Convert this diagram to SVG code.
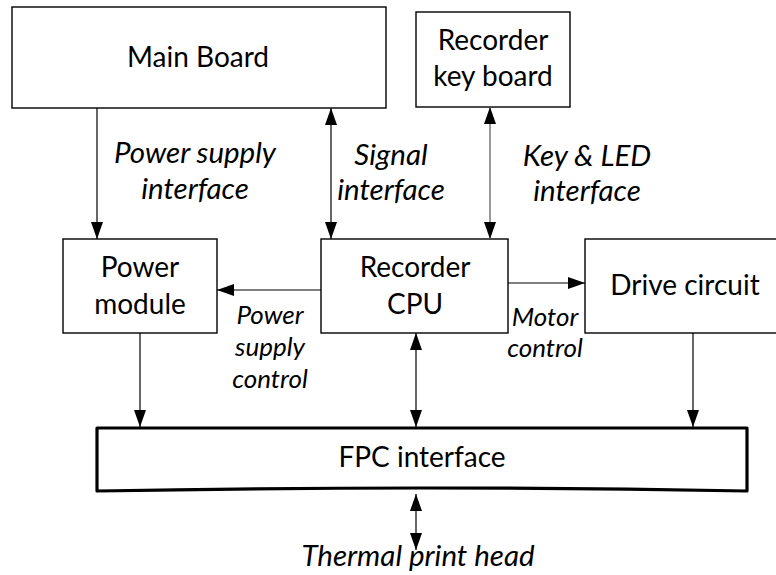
<svg xmlns="http://www.w3.org/2000/svg" width="776" height="575" viewBox="0 0 776 575">
<style>
.box{fill:#fff;stroke:#000;stroke-width:1.4}
.fpc{fill:#fff;stroke:#000;stroke-width:3.2;stroke-linejoin:round}
.t{font-family:Lato,"Liberation Sans",sans-serif;font-size:28px;fill:#000;text-anchor:middle}
.i{font-family:Lato,"Liberation Sans",sans-serif;font-size:29.5px;font-style:italic;fill:#000;text-anchor:middle}
.s{font-family:Lato,"Liberation Sans",sans-serif;font-size:26px;font-style:italic;fill:#000;text-anchor:middle}
.c{fill:none;stroke:#000;stroke-width:1.2}
.g{stroke:#555}
</style>
<defs>
<marker id="ah" viewBox="0 0 17 12" refX="17" refY="6" markerWidth="17" markerHeight="12" markerUnits="userSpaceOnUse" orient="auto-start-reverse">
<path d="M0,0 L17,6 L0,12 Z" fill="#000"/>
</marker>
</defs>
<g id="main-board"><rect class="box" x="12" y="7" width="374" height="101"/><text class="t" x="198" y="67">Main Board</text></g>
<g id="key-board"><rect class="box" x="416" y="12" width="154" height="95"/><text class="t" x="493" y="50">Recorder</text><text class="t" x="493" y="86">key board</text></g>
<g id="power-module"><rect class="box" x="63" y="239" width="154" height="94"/><text class="t" x="140" y="277">Power</text><text class="t" x="140" y="314">module</text></g>
<g id="recorder-cpu"><rect class="box" x="321" y="239" width="187" height="94"/><text class="t" x="415" y="277">Recorder</text><text class="t" x="415" y="314">CPU</text></g>
<g id="drive-circuit"><rect class="box" x="585" y="239" width="205" height="94"/><text class="t" x="685" y="295">Drive circuit</text></g>
<g id="fpc-interface"><path class="fpc" d="M97,428 H747 V491 Q422,485 97,491 Z"/><text class="t" x="422" y="467">FPC interface</text></g>
<g id="connectors">
<line class="c" x1="97" y1="108" x2="97" y2="239" marker-end="url(#ah)"/>
<line class="c" x1="331" y1="108" x2="331" y2="239" marker-start="url(#ah)" marker-end="url(#ah)"/>
<line class="c g" x1="490" y1="107" x2="490" y2="239" marker-start="url(#ah)" marker-end="url(#ah)"/>
<line class="c" x1="321" y1="290" x2="217" y2="290" marker-end="url(#ah)"/>
<line class="c" x1="508" y1="283" x2="585" y2="283" marker-end="url(#ah)"/>
<line class="c" x1="140" y1="333" x2="140" y2="427" marker-end="url(#ah)"/>
<line class="c" x1="416" y1="333" x2="416" y2="427" marker-start="url(#ah)" marker-end="url(#ah)"/>
<line class="c" x1="693" y1="333" x2="693" y2="427" marker-end="url(#ah)"/>
<line class="c" x1="416" y1="494" x2="416" y2="550" marker-start="url(#ah)" marker-end="url(#ah)"/>
</g>
<g id="labels">
<text class="i" x="195" y="163">Power supply</text>
<text class="i" x="195" y="199">interface</text>
<text class="i" x="391" y="165">Signal</text>
<text class="i" x="391" y="200">interface</text>
<text class="i" x="587" y="166">Key &amp; LED</text>
<text class="i" x="587" y="201">interface</text>
<text class="s" x="270" y="324">Power</text>
<text class="s" x="270" y="356">supply</text>
<text class="s" x="270" y="388">control</text>
<text class="s" x="545" y="326">Motor</text>
<text class="s" x="545" y="357">control</text>
<text class="i" x="418" y="566">Thermal print head</text>
</g>
</svg>
